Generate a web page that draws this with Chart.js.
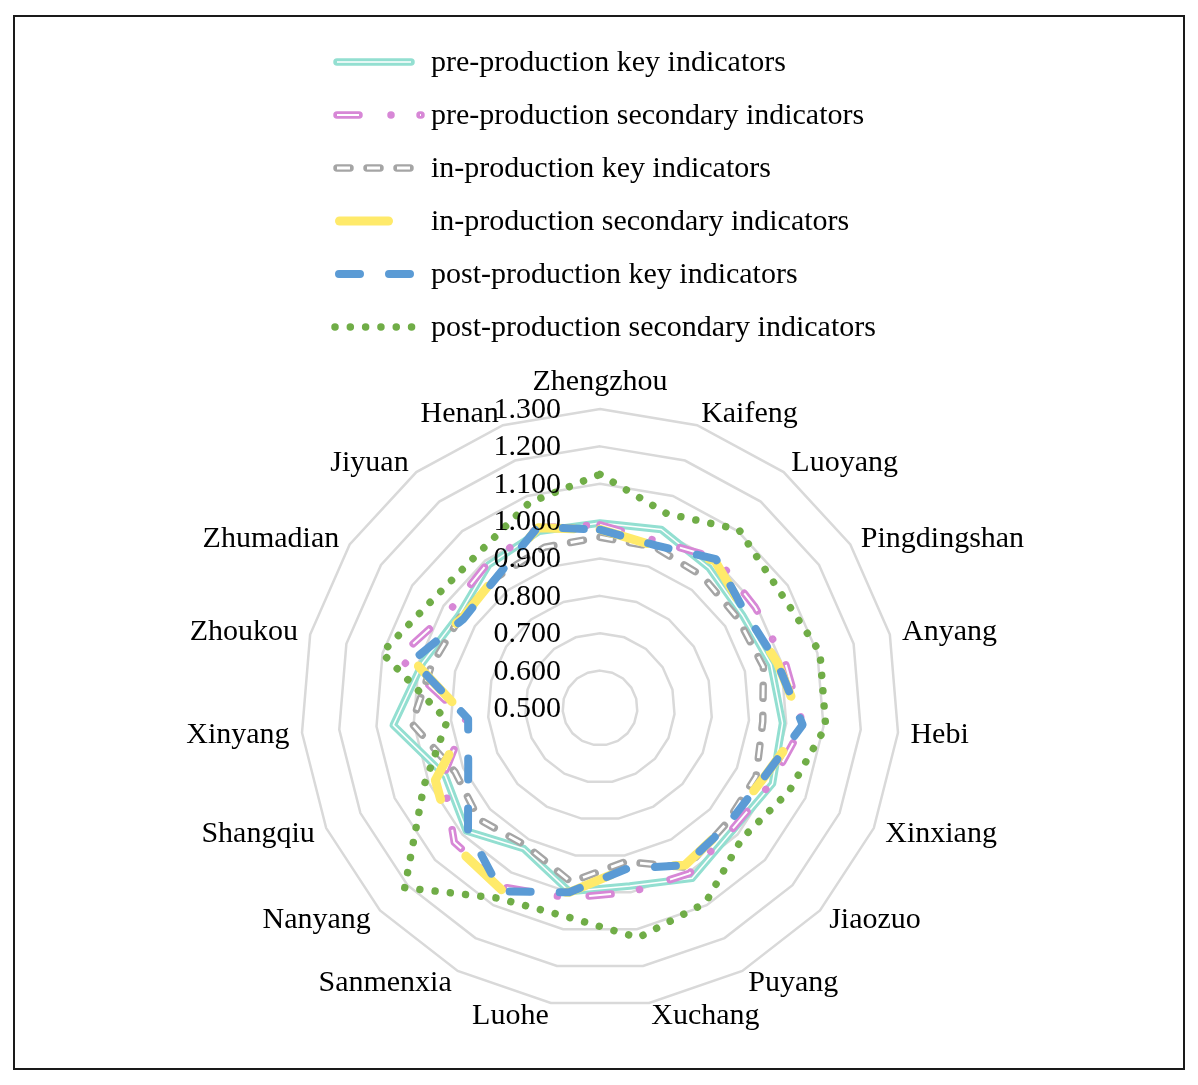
<!DOCTYPE html>
<html>
<head>
<meta charset="utf-8">
<script src="https://cdn.jsdelivr.net/npm/chart.js@4.4.0/dist/chart.umd.min.js"></script>
<style>
  html, body { margin: 0; padding: 0; background: #fff; }
  canvas { display: block; }
</style>
</head>
<body>
<canvas id="radar" width="1198" height="1085"></canvas>
<script>
const categories = ['Zhengzhou', 'Kaifeng', 'Luoyang', 'Pingdingshan', 'Anyang', 'Hebi', 'Xinxiang',
  'Jiaozuo', 'Puyang', 'Xuchang', 'Luohe', 'Sanmenxia', 'Nanyang', 'Shangqiu', 'Xinyang',
  'Zhoukou', 'Zhumadian', 'Jiyuan', 'Henan'];

const preKey       = [0.995, 1.005, 0.975, 0.955, 0.972, 0.990, 1.004, 0.983, 1.018, 0.983, 0.998, 0.928, 0.986, 0.952, 1.055, 0.990, 0.952, 0.985, 1.000];
const preSecondary = [0.990, 0.972, 1.008, 0.995, 1.010, 1.045, 1.000, 0.980, 1.003, 1.000, 1.015, 1.045, 1.030, 0.958, 0.860, 1.056, 0.979, 0.990, 1.010];
const inKey        = [0.957, 0.955, 0.947, 0.940, 0.951, 0.937, 0.956, 0.958, 0.985, 0.917, 0.972, 0.918, 0.940, 0.924, 1.005, 0.965, 0.946, 0.946, 0.955];
const inSecondary  = [0.978, 0.958, 1.000, 0.965, 0.990, 1.044, 0.975, 0.963, 0.978, 0.935, 1.000, 1.053, 1.036, 0.981, 0.854, 1.015, 0.940, 0.950, 1.010];
const postKey      = [0.977, 0.960, 1.005, 0.965, 0.990, 1.044, 0.975, 0.963, 0.978, 0.936, 1.000, 1.058, 0.980, 0.885, 0.854, 1.017, 0.936, 0.947, 1.012];
const postSecondary = [1.125, 1.050, 1.105, 1.073, 1.107, 1.106, 1.053, 1.016, 1.093, 1.123, 1.065, 1.078, 1.210, 1.014, 0.910, 1.102, 1.033, 1.027, 1.081];

const tickValues = [0.5, 0.6, 0.7, 0.8, 0.9, 1.0, 1.1, 1.2, 1.3];

const FONT = '30px "Liberation Serif", "Times New Roman", serif';

// Line styles copied from the Excel original. Some of them are "double" lines:
// a coloured stroke with a thin white core drawn over it.
const series = [
  { label: 'pre-production key indicators', data: preKey, color: '#93dfd1', width: 7.5,
    dash: [], inner: { width: 1.5, dash: [] }, sample: [337, 411] },
  { label: 'pre-production secondary indicators', data: preSecondary, color: '#d787d6', width: 7.5,
    dash: [22, 32, 0.01, 29], inner: { width: 2, dash: [22, 32, 0.01, 29] }, sample: [337, 421] },
  { label: 'in-production key indicators', data: inKey, color: '#a5a5a5', width: 7.5,
    dash: [13, 17], inner: { width: 2.8, dash: [13, 17] }, sample: [337, 413] },
  { label: 'in-production secondary indicators', data: inSecondary, color: '#ffea6a', width: 9,
    dash: [49, 64], sample: [339.5, 415] },
  { label: 'post-production key indicators', data: postKey, color: '#5b9bd5', width: 8,
    dash: [21, 29], sample: [339, 415] },
  { label: 'post-production secondary indicators', data: postSecondary, color: '#70ad47', width: 7.5,
    dash: [0.01, 15.3], sample: [335, 415] },
];

function strokeInner(ctx, pts, s, closed) {
  ctx.save();
  ctx.strokeStyle = '#fff';
  ctx.lineWidth = s.inner.width;
  ctx.lineCap = 'butt';
  ctx.lineJoin = 'round';
  ctx.setLineDash(s.inner.dash);
  ctx.beginPath();
  pts.forEach((p, i) => (i ? ctx.lineTo(p.x, p.y) : ctx.moveTo(p.x, p.y)));
  if (closed) ctx.closePath();
  ctx.stroke();
  ctx.restore();
}

const decor = {
  id: 'decor',
  afterDatasetDraw(chart, args) {
    const s = series[args.index];
    if (s.inner) strokeInner(chart.ctx, args.meta.data, s, true);
  },
  afterDraw(chart) {
    const ctx = chart.ctx;
    const r = chart.scales.r;
    ctx.save();

    // frame
    ctx.strokeStyle = '#1a1a1a';
    ctx.lineWidth = 2;
    ctx.strokeRect(14, 16, 1170, 1053);

    ctx.font = FONT;
    ctx.fillStyle = '#000';

    // value labels, left of the centre line like Excel puts them
    ctx.textAlign = 'right';
    ctx.textBaseline = 'middle';
    tickValues.forEach(v => {
      ctx.fillText(v.toFixed(3), r.xCenter - 39, r.yCenter - r.getDistanceFromCenterForValue(v) + 1);
    });

    // category labels
    categories.forEach((name, i) => {
      const p = r.getPointPosition(i, r.drawingArea + 12.5);
      const c = Math.cos(p.angle);
      if (Math.abs(c) < 0.01) {
        ctx.textAlign = 'center';
        ctx.fillText(name, p.x, r.yCenter - r.drawingArea - 27);
      } else {
        ctx.textAlign = c > 0 ? 'left' : 'right';
        ctx.fillText(name, p.x, p.y + 1);
      }
    });

    // legend
    series.forEach((s, k) => {
      const y = 62 + 53 * k;
      ctx.save();
      ctx.strokeStyle = s.color;
      ctx.lineWidth = s.width;
      ctx.lineCap = 'round';
      ctx.setLineDash(s.dash);
      ctx.beginPath();
      ctx.moveTo(s.sample[0], y);
      ctx.lineTo(s.sample[1], y);
      ctx.stroke();
      ctx.restore();
      if (s.inner) strokeInner(ctx, [{ x: s.sample[0], y }, { x: s.sample[1], y }], s, false);
      ctx.textAlign = 'left';
      ctx.fillText(s.label, 431, y + 1);
    });
    ctx.restore();
  }
};

new Chart(document.getElementById('radar'), {
  type: 'radar',
  data: {
    labels: categories,
    datasets: series.map((s, i) => ({
      label: s.label,
      data: s.data,
      borderColor: s.color,
      borderWidth: s.width,
      borderDash: s.dash,
      borderCapStyle: 'round',
      borderJoinStyle: 'round',
      pointRadius: 0,
      fill: false,
      tension: 0,
      order: series.length - i,
    })),
  },
  options: {
    responsive: false,
    animation: false,
    devicePixelRatio: 1,
    layout: { padding: { left: 301, right: 299, top: 409, bottom: 78 } },
    plugins: { legend: { display: false }, tooltip: { enabled: false } },
    scales: {
      r: {
        min: 0.5,
        max: 1.3,
        ticks: { display: false, stepSize: 0.1 },
        pointLabels: { display: false },
        angleLines: { display: false },
        grid: { color: '#d9d9d9', lineWidth: 2.5 },
      },
    },
  },
  plugins: [decor],
});
</script>
</body>
</html>
